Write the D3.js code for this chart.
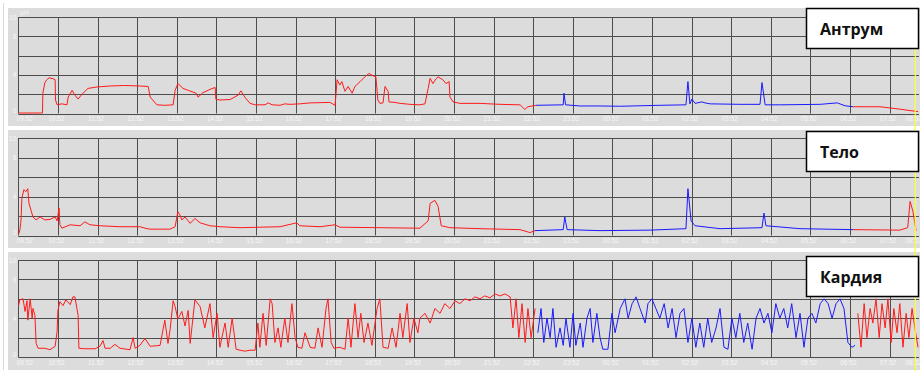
<!DOCTYPE html>
<html><head><meta charset="utf-8">
<script src="https://cdn.jsdelivr.net/npm/d3@7"></script>
<style>html,body{margin:0;padding:0;background:#fff;}svg{display:block;}</style>
</head><body>
<script>
// ---------- DATA ----------
const tickLabels = ["09:52","10:52","11:52","12:52","13:52","14:52","15:52","16:52","17:52","18:52","19:52","20:52","21:52","22:52","23:52","00:52","01:52","02:52","03:52","04:52","05:52","06:52","07:52","08:52"];
const yGrid = [0,2,4,6,8,10];
const yLabels = [0,4,8,10];
const panelNames = ["Антрум","Тело","Кардия"];
// hours after 09:52 where recording switches red -> blue -> red
const blueStart = [13.07, 13.05, 13.08];
const blueEnd   = [21.08, 21.08, 21.15];
const cursorHour = 22.65;

const antrumT = [0,0.61,0.62,0.67,0.72,0.78,0.88,0.93,0.94,0.98,1.10,1.23,1.26,1.36,1.43,1.51,1.61,1.76,1.99,2.32,2.69,3.07,3.28,3.33,3.50,3.70,3.91,3.96,4.03,4.16,4.29,4.49,4.54,4.66,4.84,4.97,4.99,5.09,5.35,5.55,5.62,5.72,5.85,5.98,6.23,6.31,6.41,6.61,6.73,6.86,7.11,7.37,7.87,8.0,8.05,8.12,8.17,8.25,8.33,8.43,8.50,8.63,8.75,8.86,8.96,9.03,9.08,9.13,9.21,9.26,9.34,9.36,9.51,9.64,9.89,10.14,10.27,10.35,10.40,10.47,10.55,10.60,10.72,10.80,10.88,10.90,10.98,11.15,11.66,12.16,12.67,12.79,12.87,13.07,13.76,13.78,13.82,14.19,14.69,15.20,15.70,16.20,16.86,16.91,16.96,17.01,17.09,17.26,17.34,17.47,18.22,18.73,18.78,18.86,19.24,20.25,20.68,20.88,21.08,21.76,22.26,22.52,22.72];
const antrumV = [0.05,0.05,2.1,3.2,3.5,3.7,3.6,3.5,1.4,0.9,1.0,0.9,1.7,2.4,1.9,1.5,2.0,2.6,2.75,2.85,2.9,2.85,2.8,1.7,0.9,0.85,0.9,2.4,3.1,2.6,2.4,2.1,1.7,2.15,2.5,2.7,1.47,1.4,1.45,1.9,2.35,1.7,1.05,0.9,0.9,1.1,0.9,0.85,1.0,0.95,1.0,1.1,1.15,0.85,3.5,2.95,3.3,2.3,2.8,2.1,2.8,3.3,3.8,4.15,3.9,3.8,1.4,1.05,1.1,2.8,2.3,1.2,1.15,1.05,0.95,0.9,1.0,2.6,3.65,3.1,3.6,3.8,3.5,3.1,3.3,1.7,1.2,1.05,1.05,0.95,0.9,0.43,0.7,0.85,0.9,2.1,0.9,0.78,0.78,0.75,0.8,0.85,0.9,3.3,1.0,1.5,1.05,1.2,1.1,1.0,0.95,0.95,3.2,0.9,0.9,0.95,1.1,0.8,0.7,0.7,0.45,0.3,0.2];

const teloT = [0,0.04,0.07,0.09,0.14,0.19,0.24,0.27,0.32,0.37,0.45,0.55,0.67,0.80,0.93,0.98,1.03,1.05,1.10,1.31,1.56,1.68,1.81,2.06,2.57,3.07,3.20,3.33,3.83,3.96,4.03,4.08,4.13,4.21,4.34,4.46,4.59,4.84,5.09,5.60,6.10,6.61,7.03,7.11,7.62,8.0,8.12,9.13,10.14,10.35,10.40,10.52,10.60,10.68,10.90,11.66,12.67,12.92,13.05,13.76,13.80,13.86,14.69,15.95,16.86,16.91,16.99,17.09,17.72,18.78,18.83,18.88,19.74,21.08,22.26,22.46,22.52,22.59,22.67];
const teloV = [0.05,0.55,1.6,3.8,4.7,4.5,4.8,3.3,2.6,1.9,1.6,1.9,1.6,1.65,1.9,1.5,2.8,1.1,0.75,1.1,1.0,1.4,1.1,1.0,0.9,0.9,0.75,0.65,0.65,0.9,2.45,2.1,1.6,1.9,1.25,1.75,1.3,1.0,0.9,0.8,0.85,0.9,1.3,1.0,0.9,1.1,0.85,0.8,0.75,1.5,3.3,3.6,3.0,1.0,0.8,0.7,0.6,0.3,0.5,0.6,1.9,0.6,0.5,0.55,0.7,4.8,1.5,1.0,0.7,0.8,2.3,1.0,0.7,0.6,0.55,0.8,3.5,2.5,0.5];

const kardiaT = [0,0.04,0.12,0.17,0.22,0.24,0.30,0.35,0.37,0.42,0.45,0.50,0.67,0.80,0.93,0.98,1.00,1.05,1.13,1.20,1.31,1.38,1.43,1.48,1.51,1.53,1.68,1.94,2.06,2.14,2.19,2.32,2.44,2.57,2.82,2.90,2.95,3.07,3.20,3.33,3.58,3.70,3.78,3.83,3.91,3.96,4.03,4.13,4.21,4.29,4.34,4.46,4.59,4.71,4.84,4.92,5.02,5.09,5.22,5.30,5.40,5.50,5.60,5.72,5.85,5.98,6.05,6.10,6.18,6.26,6.36,6.41,6.48,6.56,6.63,6.73,6.81,6.91,6.99,7.06,7.16,7.24,7.37,7.49,7.57,7.67,7.77,7.82,7.90,7.97,8.12,8.25,8.33,8.40,8.50,8.58,8.65,8.73,8.83,8.93,9.06,9.13,9.21,9.34,9.44,9.54,9.64,9.71,9.82,9.89,9.99,10.09,10.14,10.27,10.40,10.52,10.65,10.77,10.90,11.03,11.15,11.28,11.41,11.53,11.66,11.78,11.91,12.04,12.16,12.29,12.42,12.49,12.57,12.64,12.72,12.80,12.87,12.95,13.05,13.12,13.20,13.27,13.35,13.43,13.50,13.58,13.68,13.76,13.83,13.93,14.01,14.08,14.19,14.26,14.36,14.44,14.51,14.61,14.69,14.76,14.89,14.99,15.07,15.20,15.32,15.40,15.50,15.60,15.70,15.83,15.90,16.00,16.10,16.20,16.31,16.41,16.51,16.61,16.71,16.81,16.91,17.01,17.11,17.21,17.31,17.41,17.51,17.62,17.72,17.82,17.92,18.02,18.12,18.22,18.32,18.42,18.53,18.63,18.73,18.83,18.93,19.03,19.13,19.23,19.33,19.43,19.53,19.64,19.74,19.84,19.94,20.04,20.14,20.25,20.35,20.45,20.55,20.65,20.75,20.85,20.95,21.05,21.13,21.20,21.28,21.36,21.43,21.51,21.58,21.66,21.74,21.81,21.89,21.96,22.04,22.11,22.19,22.26,22.34,22.42,22.49,22.57,22.64,22.72];
const kardiaV = [5.2,5.9,6.0,4.7,5.8,3.8,6.0,4.0,5.0,4.3,1.4,0.9,0.9,0.75,1.1,2.6,4.8,5.7,5.3,5.9,5.4,6.2,6.2,5.0,4.3,0.9,0.85,0.85,1.1,1.7,0.9,0.9,1.3,0.9,0.75,2.0,0.9,1.2,1.9,1.1,1.2,3.8,1.4,2.7,5.8,5.2,3.9,4.7,3.2,4.8,1.4,5.9,5.2,3.0,5.5,2.0,4.5,1.0,3.5,1.0,4.0,0.8,0.7,0.6,0.7,0.7,3.5,1.0,4.5,1.2,6.0,5.5,1.5,3.0,1.0,4.0,1.5,5.5,2.0,1.0,0.9,2.5,1.0,0.9,3.0,1.0,5.0,6.0,1.5,0.9,1.0,0.8,4.0,1.0,5.5,2.0,4.5,1.5,3.5,1.2,5.0,6.0,1.0,0.9,3.0,1.0,4.5,2.0,5.5,1.5,4.0,2.5,4.0,4.5,3.5,5.0,4.5,5.5,5.0,5.8,5.5,6.0,5.8,6.2,6.0,6.3,6.1,6.5,6.3,6.5,6.2,3.0,6.0,2.0,5.5,1.5,5.0,2.0,5.0,2.5,5.0,1.5,4.0,2.0,5.0,1.0,3.0,1.2,4.0,1.0,4.5,1.2,3.5,1.0,4.0,5.0,1.5,4.5,2.0,0.8,0.8,4.5,2.5,5.0,6.0,4.0,5.5,6.2,5.0,3.5,5.5,6.0,5.0,4.0,5.5,3.0,5.0,2.0,4.5,5.0,1.5,4.0,1.0,3.5,1.0,4.0,1.5,3.0,5.0,1.0,0.8,4.0,2.0,4.5,1.5,3.5,0.8,4.0,5.0,3.5,4.5,2.5,5.5,4.0,5.0,3.0,5.5,2.0,4.5,1.0,4.0,4.5,3.5,5.5,6.0,5.5,4.0,5.5,6.0,5.0,1.5,1.0,1.2,4.5,1.0,5.5,2.0,5.0,3.5,6.0,2.0,5.5,3.0,6.0,1.5,5.0,2.5,5.5,1.0,4.5,2.0,5.0,3.0,1.0];

const seriesT = [antrumT, teloT, kardiaT];
const seriesV = [antrumV, teloV, kardiaV];

// ---------- LAYOUT ----------
const W = 923, H = 371;
const svg = d3.select("body").append("svg").attr("width", W).attr("height", H);
svg.append("rect").attr("width", W).attr("height", H).attr("fill", "#ffffff");

const panels = [
  {bgTop: 8,   bgBot: 126, top: 17,  bot: 113.5, box: 8},
  {bgTop: 130, bgBot: 248, top: 138, bot: 235.5, box: 131},
  {bgTop: 252, bgBot: 370, top: 260, bot: 357,   box: 256}
];
const x = d3.scaleLinear().domain([0, 23]).range([18.3, 18.3 + 23 * 39.6]);
const plotRight = 919;
const labelFont = "Liberation Sans, Arial, sans-serif";
const labelColor = "#f6f6f6";

svg.append("line").attr("x1", 3.5).attr("x2", 3.5).attr("y1", 3).attr("y2", 370)
  .attr("stroke", "#d8d8d8").attr("stroke-width", 1);

panels.forEach((p, i) => {
  const g = svg.append("g");
  g.append("rect").attr("x", 8).attr("y", p.bgTop).attr("width", 912).attr("height", p.bgBot - p.bgTop)
    .attr("fill", "#dcdcdc");
  const y = d3.scaleLinear().domain([0, 10]).range([p.bot, p.top]);

  const clipId = "clip" + i;
  svg.append("clipPath").attr("id", clipId).append("rect")
    .attr("x", x(0)).attr("y", p.top - 5).attr("width", plotRight - x(0)).attr("height", p.bot - p.top + 6);

  // grid
  g.selectAll(".hg").data(yGrid).join("line")
    .attr("x1", x(0)).attr("x2", plotRight)
    .attr("y1", d => Math.round(y(d)) + 0.5).attr("y2", d => Math.round(y(d)) + 0.5)
    .attr("stroke", "#4d4d4d").attr("stroke-width", 1);
  g.selectAll(".vg").data(d3.range(0, 24).filter(h => x(h) <= plotRight)).join("line")
    .attr("x1", d => Math.round(x(d)) + 0.5).attr("x2", d => Math.round(x(d)) + 0.5)
    .attr("y1", p.top).attr("y2", p.bot)
    .attr("stroke", "#4d4d4d").attr("stroke-width", 1);

  // x-axis labels (first pushed right, last pulled left to stay inside)
  const ax = d3.axisBottom(x).tickValues(d3.range(0, 24)).tickFormat(d => tickLabels[d]).tickSize(0).tickPadding(3);
  const axg = g.append("g").attr("transform", `translate(0,${p.bot})`).call(ax);
  axg.select(".domain").remove();
  axg.selectAll("text").attr("fill", labelColor).attr("font-size", "6.5px").attr("font-family", labelFont)
    .attr("dx", d => d === 0 ? 6 : (d === 23 ? -16 : -2));

  const ay = d3.axisLeft(y).tickValues(yLabels).tickSize(0).tickPadding(2);
  const ayg = g.append("g").attr("transform", `translate(${x(0)},0)`).call(ay);
  ayg.select(".domain").remove();
  ayg.selectAll("text").attr("fill", labelColor).attr("font-size", "6.5px").attr("font-family", labelFont)
    .attr("dy", d => d === 0 ? "-0.1em" : "0.32em");

  if (i === 0) {
    g.append("text").attr("x", x(0) + 2).attr("y", p.top - 2).text("pH")
      .attr("fill", labelColor).attr("font-size", "6.5px").attr("font-family", labelFont);
  }

  // data
  const T = seriesT[i], V = seriesV[i];
  const pts = T.map((t, k) => [t, V[k]]);
  const segs = [
    {c: "#ff1a1a", f: d => d[0] <= blueStart[i]},
    {c: "#1a1aff", f: d => d[0] >= blueStart[i] && d[0] <= blueEnd[i]},
    {c: "#ff1a1a", f: d => d[0] >= blueEnd[i]}
  ];
  const line = d3.line().x(d => x(d[0])).y(d => y(d[1]));
  segs.forEach(s => {
    g.append("path").datum(pts.filter(s.f)).attr("d", line)
      .attr("fill", "none").attr("stroke", s.c).attr("stroke-width", 1)
      .attr("clip-path", `url(#${clipId})`);
  });
});

// cursor
svg.append("line").attr("x1", x(cursorHour)).attr("x2", x(cursorHour)).attr("y1", 10).attr("y2", 371)
  .attr("stroke", "#ffff33").attr("stroke-width", 1.2);

// name boxes
panels.forEach((p, i) => {
  svg.append("rect").attr("x", 806.5).attr("y", p.box + 0.5).attr("width", 112).attr("height", 40)
    .attr("fill", "#ffffff").attr("stroke", "#000").attr("stroke-width", 1.5);
  svg.append("text").attr("x", 820).attr("y", p.box + 27).text(panelNames[i])
    .attr("font-family", "Open Sans, Noto Sans, sans-serif").attr("font-weight", "bold")
    .attr("font-size", "16px").attr("fill", "#111");
});
</script>
</body></html>
